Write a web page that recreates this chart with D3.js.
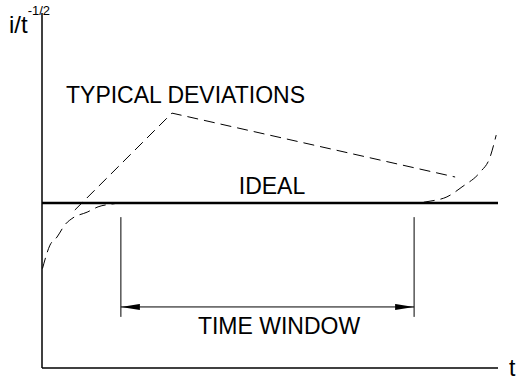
<!DOCTYPE html>
<html>
<head>
<meta charset="utf-8">
<script src="https://cdn.jsdelivr.net/npm/d3@7"></script>
<style>
  body { margin: 0; background: #fff; }
  text { font-family: "Liberation Sans", Arial, sans-serif; fill: #000; }
</style>
</head>
<body>
<div id="chart"></div>
<script>
// data (time and i/t^-1/2 in arbitrary 0-100 units)
const idealLevel = 46.5;
const deviationLine = [[7.2, 44.5], [28.5, 71.8], [90.6, 53.8]];
const earlyCurve = [[0.1, 28.0], [1.75, 34.6], [3.3, 36.9], [5.0, 40.3], [6.8, 42.3], [9.9, 43.9], [12.3, 45.4], [15.4, 46.2], [17.5, 46.5], [20, 46.5]];
const lateCurve = [[80, 46.5], [81.8, 46.5], [85.1, 47.0], [88.8, 48.2], [92.1, 51.0], [96.1, 55.2], [98.2, 59.2], [99.6, 65.6]];
const timeWindow = [17.3, 81.6];
const windowTop = 42.5, windowBottom = 14.4, arrowLevel = 17.2;

const width = 520, height = 381;
const margin = {top: 13, right: 22, bottom: 13, left: 42};

const svg = d3.select("#chart").append("svg")
  .attr("width", width)
  .attr("height", height);

const x = d3.scaleLinear().domain([0, 100]).range([margin.left, width - margin.right]);
const y = d3.scaleLinear().domain([0, 100]).range([height - margin.bottom, margin.top]);

svg.append("defs").append("marker")
  .attr("id", "arrow")
  .attr("viewBox", "0 0 19 6")
  .attr("refX", 19).attr("refY", 3)
  .attr("markerWidth", 19).attr("markerHeight", 6)
  .attr("markerUnits", "userSpaceOnUse")
  .attr("orient", "auto-start-reverse")
  .append("path")
  .attr("d", "M0,0L19,3L0,6Z")
  .attr("fill", "#000");

// axes (plain lines, no ticks)
svg.append("line")
  .attr("x1", x(0)).attr("x2", x(0))
  .attr("y1", y(0)).attr("y2", y(100))
  .attr("stroke", "#000").attr("stroke-width", 1.5);

svg.append("line")
  .attr("x1", x(0)).attr("x2", x(100))
  .attr("y1", y(0)).attr("y2", y(0))
  .attr("stroke", "#000").attr("stroke-width", 1.5);

// ideal
svg.append("line")
  .attr("x1", x(0)).attr("x2", x(100))
  .attr("y1", y(idealLevel)).attr("y2", y(idealLevel))
  .attr("stroke", "#000").attr("stroke-width", 2.5);

const line = d3.line().x(d => x(d[0])).y(d => y(d[1]));
const curve = d3.line().x(d => x(d[0])).y(d => y(d[1])).curve(d3.curveMonotoneX);

svg.append("path")
  .datum(deviationLine)
  .attr("d", line)
  .attr("fill", "none").attr("stroke", "#000").attr("stroke-width", 1)
  .attr("stroke-dasharray", "11,6");

[earlyCurve, lateCurve].forEach(c => {
  svg.append("path")
    .datum(c)
    .attr("d", curve)
    .attr("fill", "none").attr("stroke", "#000").attr("stroke-width", 1)
    .attr("stroke-dasharray", "11,6");
});

// time window
timeWindow.forEach(t => {
  svg.append("line")
    .attr("x1", x(t)).attr("x2", x(t))
    .attr("y1", y(windowTop)).attr("y2", y(windowBottom))
    .attr("stroke", "#000").attr("stroke-width", 1);
});

svg.append("line")
  .attr("x1", x(timeWindow[0])).attr("x2", x(timeWindow[1]))
  .attr("y1", y(arrowLevel)).attr("y2", y(arrowLevel))
  .attr("stroke", "#000").attr("stroke-width", 1)
  .attr("marker-start", "url(#arrow)")
  .attr("marker-end", "url(#arrow)");

// labels
svg.append("text")
  .attr("x", 279)
  .attr("y", 334)
  .attr("text-anchor", "middle")
  .style("font-size", "23px")
  .text("TIME WINDOW");

svg.append("text")
  .attr("x", 272).attr("y", 194)
  .attr("text-anchor", "middle")
  .style("font-size", "23px")
  .text("IDEAL");

svg.append("text")
  .attr("x", 66).attr("y", 103)
  .style("font-size", "23px")
  .text("TYPICAL DEVIATIONS");

svg.append("text")
  .attr("x", 509).attr("y", 376)
  .style("font-size", "23px")
  .text("t");

const yl = svg.append("text")
  .attr("x", 9).attr("y", 33)
  .style("font-size", "24px");
yl.append("tspan").text("i/t");
yl.append("tspan")
  .attr("dy", -18)
  .style("font-size", "13px")
  .text("-1/2");
</script>
</body>
</html>
